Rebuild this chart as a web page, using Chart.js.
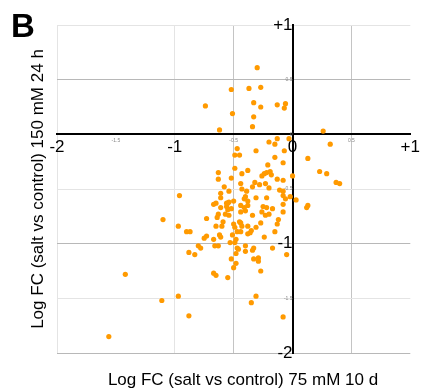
<!DOCTYPE html>
<html>
<head>
<meta charset="utf-8">
<script src="https://cdn.jsdelivr.net/npm/chart.js@4/dist/chart.umd.min.js"></script>
<style>
  html, body { margin: 0; padding: 0; background: #fff; }
  #wrap { position: relative; width: 423px; height: 392px; }
</style>
</head>
<body>
<div id="wrap"><canvas id="fcChart" width="423" height="392"></canvas></div>
<script>
// tick positions on both axes
const xTicks = [-2, -1.5, -1, -0.5, 0, 0.5, 1];
const yTicks = [-2, -1.5, -1, -0.5, 0, 0.5, 1];

// log FC, 75 mM 10 d (x) vs 150 mM 24 h (y), one entry per gene
const xValues = [
  -0.30, -0.52, -0.37, -0.27, -0.74, -0.33, -0.27, -0.13, -0.06, -0.07,
  -0.51, -0.33, -0.34, -0.62, 0.26, -0.13, -0.03, -0.20, -0.15, -0.47,
  -0.31, -0.07, -0.49, -0.45, -0.15, 0.13, 0.32, -0.08, -0.21, -0.49,
  -0.63, -0.52, -0.63, -0.43, -0.38, -0.44, -0.58, -0.54, -0.43, -0.39,
  -0.61, -0.61, -0.50, -0.54, -0.55, -0.65, -0.67, -0.41, -0.38, -0.44,
  -0.41, -0.56, -0.52, -0.55, -0.61, -0.63, -0.54, -0.44, -0.40, -0.73,
  -0.64, -0.59, -0.65, -0.60, -0.50, -0.45, -0.44, -0.43, -0.49, -0.38,
  0.00, 0.23, 0.29, -0.08, 0.37, 0.40, -0.08, -0.02, 0.03, -0.06,
  0.13, 0.12, -0.26, -0.24, -0.22, -0.19, -0.18, -0.13, -0.32, -0.34,
  -0.28, -0.20, -0.11, -0.08, -0.31, -0.22, -0.38, -0.25, -0.22, -0.17,
  -0.08, -0.34, -0.23, -0.20, -0.08, -0.27, -0.13, -0.31, -0.90, -0.87,
  -0.47, -0.44, -0.35, -0.36, -0.38, -0.73, -0.62, -0.67, -0.48, -0.49,
  -0.24, -0.53, -0.80, -0.78, -0.66, -0.63, -0.40, -0.47, -0.46, -0.33,
  -0.34, -0.40, -0.17, -0.88, -0.83, -0.48, -0.05, -0.52, -0.33, -0.29,
  -0.29, -0.48, -0.50, -0.27, -0.67, -0.65, -0.55, -0.31, -0.35, -0.88,
  -0.08, -0.96, -1.10, -0.97, -1.42, -0.97, -1.11, -1.56, -0.56, -0.26,
  -0.57, -0.12, -0.75, -0.61, -0.51, -0.15, -0.40, -0.23
];
const yValues = [
  0.61, 0.41, 0.42, 0.43, 0.26, 0.29, 0.25, 0.27, 0.28, 0.24,
  0.19, 0.16, 0.07, 0.04, 0.03, -0.04, -0.04, -0.07, -0.09, -0.13,
  -0.15, -0.15, -0.19, -0.19, -0.21, -0.22, -0.09, -0.26, -0.28, -0.31,
  -0.35, -0.40, -0.41, -0.36, -0.33, -0.45, -0.48, -0.52, -0.50, -0.52,
  -0.54, -0.58, -0.61, -0.62, -0.63, -0.63, -0.64, -0.59, -0.61, -0.65,
  -0.67, -0.66, -0.68, -0.69, -0.67, -0.73, -0.74, -0.71, -0.70, -0.77,
  -0.76, -0.80, -0.84, -0.84, -0.82, -0.80, -0.81, -0.84, -0.85, -0.84,
  -0.38, -0.34, -0.36, -0.42, -0.44, -0.45, -0.56, -0.57, -0.60, -0.59,
  -0.65, -0.67, -0.38, -0.36, -0.35, -0.34, -0.37, -0.41, -0.44, -0.48,
  -0.46, -0.49, -0.51, -0.52, -0.58, -0.58, -0.65, -0.66, -0.67, -0.68,
  -0.64, -0.74, -0.74, -0.73, -0.71, -0.81, -0.82, -0.85, -0.89, -0.89,
  -0.89, -0.89, -0.88, -0.90, -0.91, -0.93, -0.92, -0.96, -0.96, -0.99,
  -0.94, -0.99, -1.02, -1.04, -1.02, -1.02, -1.02, -1.04, -1.05, -1.04,
  -1.06, -1.07, -1.04, -1.08, -1.10, -1.09, -1.10, -1.14, -1.14, -1.13,
  -1.16, -1.18, -1.22, -1.25, -1.27, -1.29, -1.31, -1.48, -1.54, -1.66,
  -1.67, -0.56, -0.78, -0.84, -1.28, -1.48, -1.52, -1.85, -0.63, -0.71,
  -0.73, -0.78, -0.95, -0.94, -0.92, -0.89, -0.57, -0.45
];

const panelLetter = 'B';
const xTitle = 'Log FC (salt vs control) 75 mM 10 d';
const yTitle = 'Log FC (salt vs control) 150 mM 24 h';

var points = xValues.map(function(x, i) { return {x: x, y: yValues[i]}; });

var FONT = '"Liberation Sans", Arial, sans-serif';

function tickValue(ctx) {
  return ctx && ctx.tick ? ctx.tick.value : null;
}
// big black labels for whole numbers, tiny grey ones for halves
function isBig(ctx, bigZero) {
  var v = tickValue(ctx);
  if (v === null) return true;
  return Number.isInteger(v) && (v !== 0 || bigZero);
}
function tickFont(ctx, bigZero) {
  return isBig(ctx, bigZero) ? {family: FONT, size: 17} : {family: FONT, size: 5};
}
function tickColor(ctx, bigZero) {
  return isBig(ctx, bigZero) ? '#000' : '#888';
}
function tickLabel(v) {
  return v === 1 ? '+1' : String(v);
}

function xGridColor(ctx) {
  var v = tickValue(ctx);
  if (v === 0) return '#000';
  if (v === -1.5 || v === 1) return 'rgba(0,0,0,0)';
  if (v === 0.5 || v === -0.5) return '#c4c4c4';
  return '#e4e4e4';
}
function yGridColor(ctx) {
  var v = tickValue(ctx);
  if (v === 0) return '#000';
  if (v === 1 || v === -0.5 || v === -1.5) return '#e4e4e4';
  return '#b8b8b8';
}
function gridWidth(ctx) {
  return tickValue(ctx) === 0 ? 2 : 1;
}

// panel letter and the two axis titles
var titlesPlugin = {
  id: 'titles',
  afterDraw: function(chart) {
    var c = chart.ctx;
    var area = chart.chartArea;
    c.save();
    c.fillStyle = '#000';
    c.font = 'bold 33px ' + FONT;
    c.textAlign = 'left';
    c.textBaseline = 'alphabetic';
    c.fillText(panelLetter, 11, 37);

    c.font = '17px ' + FONT;
    c.textAlign = 'center';
    c.textBaseline = 'middle';
    c.fillText(xTitle, 243, 380);

    c.translate(38, (area.top + area.bottom) / 2);
    c.rotate(-Math.PI / 2);
    c.fillText(yTitle, 0, 0);
    c.restore();
  }
};

window.onload = function() {
  var ctx = document.getElementById('fcChart').getContext('2d');
  var fcChart = new Chart(ctx, {
    type: 'scatter',
    data: {
      datasets: [{
        data: points,
        backgroundColor: '#ff9a00',
        borderWidth: 0,
        pointRadius: 2.6,
        pointHoverRadius: 2.6
      }]
    },
    options: {
      responsive: false,
      animation: false,
      layout: {padding: {left: 57, top: 25, right: 10, bottom: 39}},
      plugins: {
        legend: {display: false},
        tooltip: {enabled: false}
      },
      scales: {
        x: {
          type: 'linear',
          position: {y: 0},
          min: -2,
          max: 1,
          afterBuildTicks: function(s) { s.ticks = xTicks.map(function(v) { return {value: v}; }); },
          border: {color: '#000', width: 2},
          grid: {color: xGridColor, lineWidth: gridWidth, drawTicks: false},
          ticks: {
            autoSkip: false,
            maxRotation: 0,
            padding: 3,
            callback: tickLabel,
            font: function(c) { return tickFont(c, true); },
            color: function(c) { return tickColor(c, true); }
          }
        },
        y: {
          type: 'linear',
          position: {x: 0},
          min: -2,
          max: 1,
          afterBuildTicks: function(s) { s.ticks = yTicks.map(function(v) { return {value: v}; }); },
          border: {color: '#000', width: 2},
          grid: {color: yGridColor, lineWidth: gridWidth, drawTicks: false},
          ticks: {
            autoSkip: false,
            padding: 2,
            callback: tickLabel,
            font: function(c) { return tickFont(c, false); },
            color: function(c) { return tickColor(c, false); }
          }
        }
      }
    },
    plugins: [titlesPlugin]
  });
};
</script>
</body>
</html>
